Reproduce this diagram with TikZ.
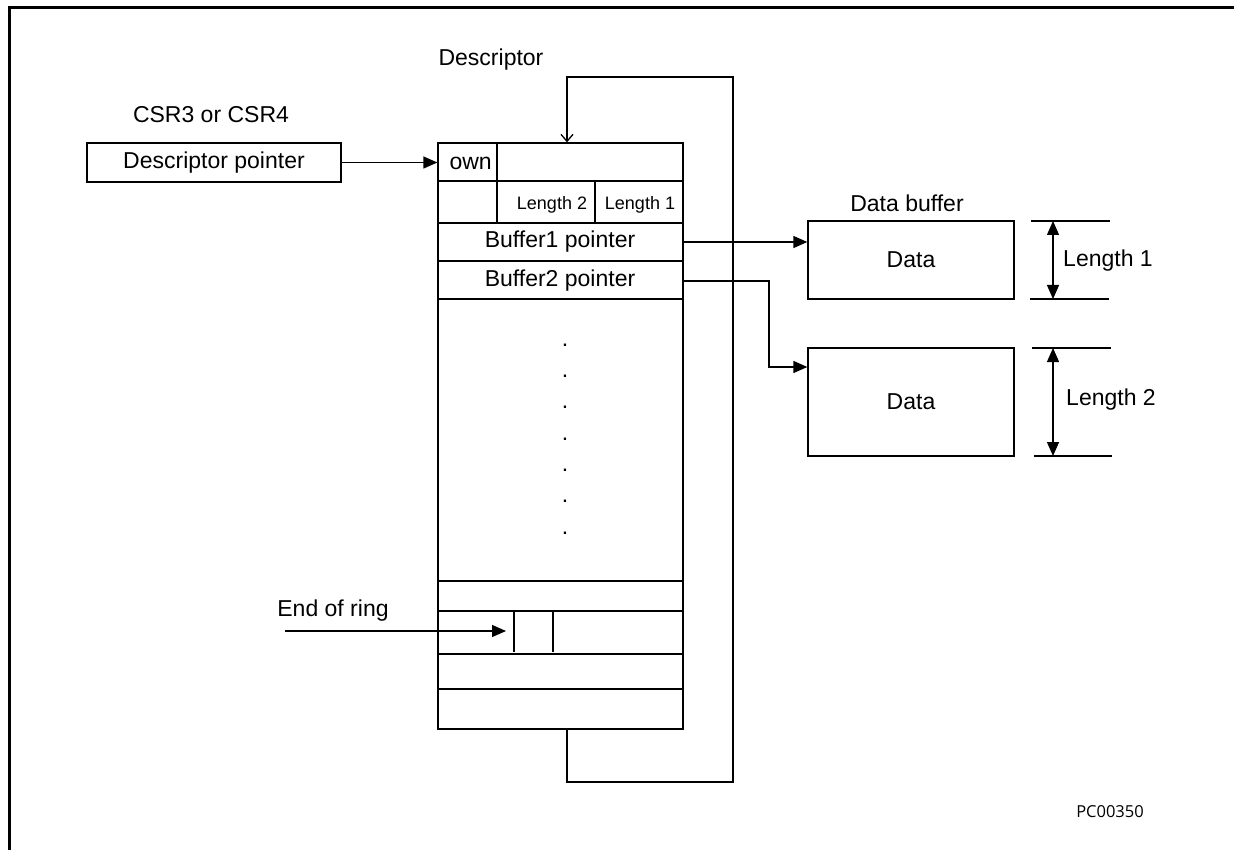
\documentclass[tikz,border=0pt]{standalone}
\usepackage{fontspec}
\setmainfont{Liberation Sans}
\newfontfamily\tagfont{Open Sans}
\usetikzlibrary{arrows.meta}

\begin{document}
\begin{tikzpicture}[x=1pt,y=-1pt,
	every node/.style={font=\fontsize{23}{27}\selectfont},
	small/.style={font=\fontsize{18}{21}\selectfont},
	ln/.style={line width=1.3pt},
	boxed/.style={draw,ln,inner sep=0pt},
	arr/.style={ln,-{Triangle[length=14pt,width=12pt]}},
	dim/.style={ln,{Triangle[length=14pt,width=12pt]}-{Triangle[length=14pt,width=12pt]}}]
	\useasboundingbox (0,0) rectangle (1234,850);
	\draw[line width=3pt] (9,850) -- (9,8) -- (1234,8);
	% pointer register
	\node (csr) at (211,115) {CSR3 or CSR4};
	\node[boxed,minimum width=254pt,minimum height=39pt] (dptr) at (214,162.5) {Descriptor pointer};
	% descriptor table
	\node (dlabel) at (491,60) {Descriptor};
	\node[boxed,minimum width=245pt,minimum height=586pt] (desc) at (560.5,436) {};
	\foreach \y in {181,223,261,299,581,611,654,689}
		\draw[ln] (438,\y) -- (683,\y);
	\draw[ln] (497,143) -- (497,223);
	\draw[ln] (595,181) -- (595,223);
	\draw[ln] (514,612) -- (514,652);
	\draw[ln] (553,612) -- (553,652);
	\node[anchor=west] (own) at (446,163) {own};
	\node[small] (len2) at (552,205) {Length 2};
	\node[small] (len1) at (640,205) {Length 1};
	\node (buf1) at (560,242) {Buffer1 pointer};
	\node (buf2) at (560,281) {Buffer2 pointer};
	\foreach \k in {0,...,6}
		\node (dot\k) at (565,345+31.3*\k) {.};
	% data buffers
	\node (dbuf) at (907,203) {Data buffer};
	\node[boxed,minimum width=206pt,minimum height=78pt] (data1) at (911,260) {Data};
	\node[boxed,minimum width=206pt,minimum height=108pt] (data2) at (911,402) {Data};
	\draw[ln] (1031,221) -- (1110,221) (1030,299) -- (1109,299);
	\draw[ln] (1032,348) -- (1111,348) (1034,456) -- (1112,456);
	\draw[dim] (1053,221) -- (1053,299);
	\draw[dim] (1053,348) -- (1053,456);
	\node (l1) at (1108,261) {Length 1};
	\node (l2) at (1111,400) {Length 2};
	% connectors
	\coordinate (loopx) at (567,0);
	\coordinate (b2turn) at (769,367);
	\coordinate (eorin) at (285,631);
	\coordinate (eortip) at (506,631);
	\draw[arr] (dptr.east) -- (dptr.east -| desc.west);
	\draw[arr] (desc.east |- buf1) -- (data1.west |- buf1);
	\draw[arr] (desc.east |- buf2) -| (b2turn) -- (data2.west |- b2turn);
	\draw[ln,-{Straight Barb[length=7pt,width=12pt]}] (desc.south -| loopx) -- (567,782) -- (733,782) -- (733,77) -- (567,77) -- (desc.north -| loopx);
	\node (eor) at (333,611) {End of ring};
	\draw[arr] (eorin) -- (eortip);
	\node[font=\tagfont\fontsize{16.5}{20}\selectfont] (tag) at (1110,812) {PC00350};
\end{tikzpicture}
\end{document}
